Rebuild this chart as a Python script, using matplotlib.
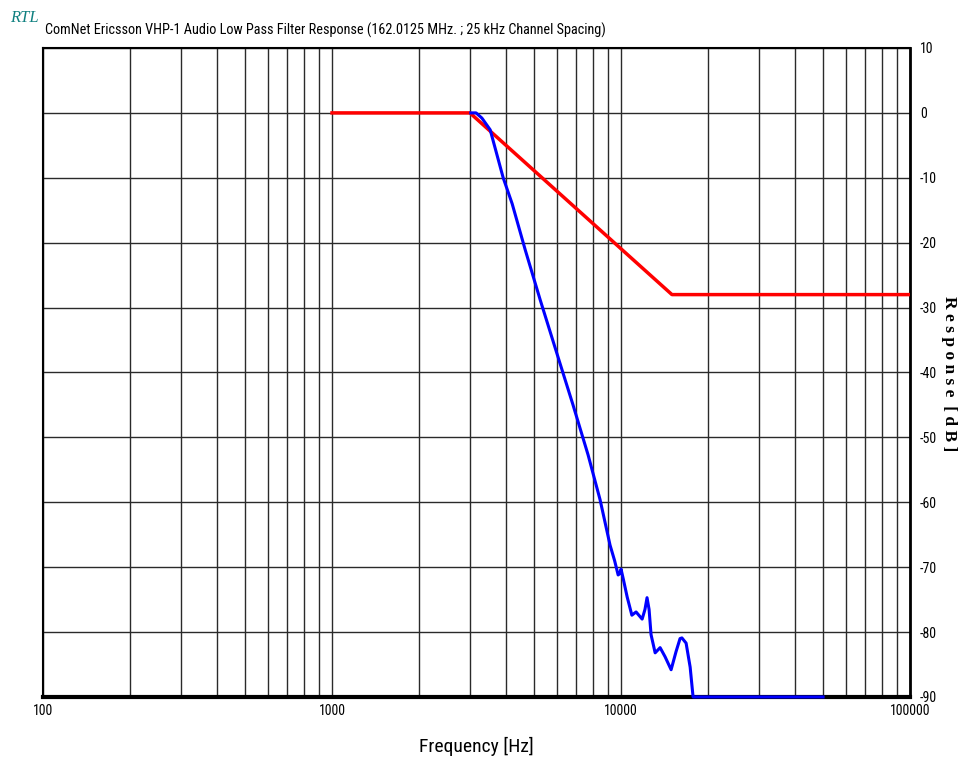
import matplotlib.pyplot as plt
import matplotlib.ticker as mticker
from matplotlib import font_manager
from matplotlib.font_manager import FontProperties

# mask (red) and measured response (blue)
mask_freq = [1000, 3000, 15000, 100000]
mask_db = [0, 0, -28, -28]

resp_freq = [3020, 3150, 3300, 3525, 3910, 4200, 4660, 5250, 6050, 6820, 7690,
             8460, 9160, 9500, 9770, 9900, 10000, 10200, 10500, 10900, 11270,
             11830, 12100, 12300, 12500, 12700, 13120, 13650, 14200, 14900,
             15500, 16000, 16240, 16790, 17340, 17750, 50000]
resp_db = [0, 0, -0.8, -2.6, -10, -14, -21.1, -28.8, -37.6, -45, -52.7,
           -59.6, -66.6, -69, -71.2, -71, -70.3, -72, -74.6, -77.4, -76.9,
           -78, -76.5, -74.7, -76.5, -80.4, -83.2, -82.4, -83.8, -85.8,
           -83, -81, -80.9, -81.7, -85.4, -90, -90]


def find_narrow():
    fonts = font_manager.fontManager.ttflist
    upright = [f for f in fonts if f.style == "normal" and f.weight in (400, "normal", "regular")]
    for want in ["Liberation Sans Narrow", "Arial Narrow", "Roboto Condensed",
                 "Open Sans Condensed"]:
        for f in upright:
            if f.name == want:
                return FontProperties(fname=f.fname)
    for f in upright:
        if f.stretch not in ("normal", 500) and "Serif" not in f.name and "Mono" not in f.name:
            return FontProperties(fname=f.fname)
    return None


narrow_fp = find_narrow()


def narrow(size, fallback):
    fp = narrow_fp.copy() if narrow_fp else FontProperties(family="Liberation Sans")
    fp.set_size(size if narrow_fp else fallback)
    return fp


fig = plt.figure(figsize=(9.6, 7.57), dpi=100)
ax = fig.add_axes([0.0448, 0.0793, 0.9032, 0.8573])

ax.set_xscale("log")
ax.set_xlim(100, 100000)
ax.set_ylim(-90, 10)

ax.xaxis.set_major_locator(mticker.LogLocator(base=10))
ax.xaxis.set_minor_locator(mticker.LogLocator(base=10, subs=range(2, 10)))
ax.xaxis.set_minor_formatter(mticker.NullFormatter())
ax.xaxis.set_major_formatter(mticker.FuncFormatter(lambda v, p: f"{int(round(v))}"))
ax.yaxis.set_major_locator(mticker.MultipleLocator(10))
ax.yaxis.set_major_formatter(mticker.FuncFormatter(lambda v, p: f"{int(round(v))}"))

ax.grid(which="both", axis="x", color="#2a2a2a", linewidth=1)
ax.grid(which="major", axis="y", color="#2a2a2a", linewidth=1)
ax.set_axisbelow(True)

ax.yaxis.tick_right()
ax.tick_params(axis="both", which="both", length=0)
ax.tick_params(axis="x", pad=5)
ax.tick_params(axis="y", pad=7)

small = narrow(10, 8.5)
for lab in ax.get_xticklabels() + ax.get_yticklabels():
    lab.set_fontproperties(small)
ax.get_xticklabels()[-1].set_horizontalalignment("right")

for s in ax.spines.values():
    s.set_linewidth(1.5)
ax.spines["bottom"].set_linewidth(3)
ax.spines["right"].set_linewidth(2)

ax.plot(mask_freq, mask_db, color="#ff0000", linewidth=2.5, zorder=3)
ax.plot(resp_freq, resp_db, color="#0000ff", linewidth=2.2, zorder=4, clip_on=False)

ax.set_xlabel("Frequency [Hz]", fontproperties=narrow(14, 12.5), labelpad=14)

fig.text(0.9885, 0.506, "R e s p o n s e  [ d B ]", fontsize=12.5, fontfamily="Liberation Serif",
         fontweight="bold", rotation=-90, ha="center", va="center")

fig.text(0.047, 0.950, "ComNet Ericsson VHP-1 Audio Low Pass Filter Response (162.0125 MHz. ; 25 kHz Channel Spacing)",
         fontproperties=narrow(10.3, 8.5), va="bottom")
fig.text(0.010, 0.965, "RTL", fontsize=12, fontfamily="Liberation Serif", style="italic",
         color="#108080", va="bottom")

fig.savefig("out.png", dpi=100)
